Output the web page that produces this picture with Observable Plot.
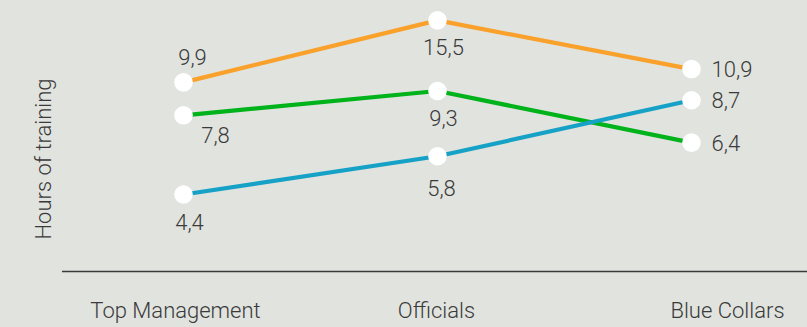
<!DOCTYPE html>
<html>
<head>
<meta charset="utf-8">
<script src="https://cdn.jsdelivr.net/npm/d3@7"></script>
<script src="https://cdn.jsdelivr.net/npm/@observablehq/plot@0.6"></script>
<style>
  html, body { margin: 0; padding: 0; background: #e1e3df; }
  #chart svg { display: block; }
</style>
</head>
<body>
<div id="chart"></div>
<script>
// ---- data ----
const categories = ["Top Management", "Officials", "Blue Collars"];
const seriesNames = ["Series 1", "Series 2", "Series 3"];
const series1Values = [9.9, 15.5, 10.9];
const series2Values = [7.8, 9.3, 6.4];
const series3Values = [4.4, 5.8, 8.7];
const yAxisLabel = "Hours of training";

// ---- style config ----
const seriesColors = ["#f9a12b", "#00b31b", "#16a1c6"];
const labelPlacement = [
  ["above", "below", "right"],
  ["belowRight", "below", "right"],
  ["below", "belowLow", "right"]
];
const placementOffsets = {
  above:      {dx: 9,  dy: -24, anchor: "middle"},
  below:      {dx: 6,  dy: 28,  anchor: "middle"},
  belowLow:   {dx: 4,  dy: 33,  anchor: "middle"},
  belowRight: {dx: 32, dy: 21,  anchor: "middle"},
  right:      {dx: 20, dy: 1,   anchor: "start"}
};
const categoryLabelDx = [-8, -1, 36];

const allValues = [series1Values, series2Values, series3Values];
const rows = [];
allValues.forEach((vals, si) => {
  vals.forEach((v, ci) => {
    rows.push({series: seriesNames[si], category: categories[ci], value: v, placement: labelPlacement[si][ci]});
  });
});

const fmt = d3.formatLocale({decimal: ",", thousands: ".", grouping: [3], currency: ["", ""]}).format(".1f");
const catRows = categories.map((c, i) => ({category: c, dx: categoryLabelDx[i]}));

const textColor = "#3a3a3a";
const fontFamily = "Roboto, 'Noto Sans', sans-serif";
const fontWeight = 300;
const fontSize = 22;

const labelMarks = Object.entries(placementOffsets).map(([key, o]) =>
  Plot.text(rows.filter(d => d.placement === key), {
    x: "category", y: "value", text: d => fmt(d.value),
    dx: o.dx, dy: o.dy, textAnchor: o.anchor,
    fill: textColor, fontSize, fontWeight
  })
);

const catMarks = catRows.map(d =>
  Plot.text([d], {
    x: "category", frameAnchor: "bottom", text: "category",
    dx: d.dx, dy: 39, textAnchor: "middle", lineAnchor: "middle",
    fill: textColor, fontSize, fontWeight
  })
);

const chart = Plot.plot({
  width: 807,
  height: 327,
  marginLeft: 62,
  marginRight: 0,
  marginTop: 0,
  marginBottom: 56,
  style: {background: "transparent", fontFamily, color: textColor},
  x: {type: "point", domain: categories, range: [182, 691], padding: 0, axis: null},
  y: {type: "log", domain: [2.52, 17.9], axis: null},
  color: {domain: seriesNames, range: seriesColors},
  marks: [
    Plot.ruleY([2.52], {stroke: "#3a3a3a", strokeWidth: 1.3}),
    Plot.line(rows, {x: "category", y: "value", z: "series", stroke: "series", strokeWidth: 4.2}),
    Plot.dot(rows, {x: "category", y: "value", r: 9.3, fill: "white", stroke: null}),
    ...labelMarks,
    ...catMarks,
    Plot.text([yAxisLabel], {
      frameAnchor: "left", text: d => d, rotate: -90,
      dx: -19, dy: 23, textAnchor: "middle", lineAnchor: "middle",
      fill: textColor, fontSize, fontWeight
    })
  ]
});

document.getElementById("chart").appendChild(chart);
</script>
</body>
</html>
